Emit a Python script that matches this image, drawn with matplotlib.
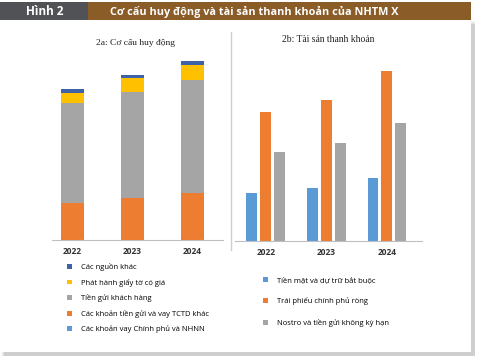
import matplotlib.pyplot as plt
from matplotlib.patches import Rectangle, Patch
import numpy as np

# ── Data ──────────────────────────────────────────────────────────────────────
years = ['2022', '2023', '2024']

# 2a: funding structure (stacked, bottom -> top)
vay_cp_nhnn = [0, 0, 0]
tien_gui_tctd = [37, 42, 47]
tien_gui_kh = [100, 106, 113]
giay_to_co_gia = [10, 14, 15]
nguon_khac = [4, 3, 4]

stack_labels = ['Các khoản vay Chính phủ và NHNN',
                'Các khoản tiền gửi và vay TCTD khác',
                'Tiền gửi khách hàng',
                'Phát hành giấy tờ có giá',
                'Các nguồn khác']
stack_colors = ['#5B9BD5', '#ED7D31', '#A5A5A5', '#FFC000', '#3D62A8']

# 2b: liquid assets
tien_mat = [48, 53, 63]
trai_phieu = [129, 141, 170]
nostro = [89, 98, 118]
liq_labels = ['Tiền mặt và dự trữ bắt buộc',
              'Trái phiếu chính phủ ròng',
              'Nostro và tiền gửi không kỳ hạn']
liq_colors = ['#5B9BD5', '#ED7D31', '#A5A5A5']

# ── Figure ────────────────────────────────────────────────────────────────────
W, H = 478, 359
fig = plt.figure(figsize=(W / 100, H / 100), dpi=100)
fig.patch.set_facecolor('white')


def box(x0, y0, x1, y1):
    # pixel box (top-left origin) -> figure fraction
    return [x0 / W, 1 - y1 / H, (x1 - x0) / W, (y1 - y0) / H]


bg = fig.add_axes([0, 0, 1, 1])
bg.set_xlim(0, W)
bg.set_ylim(H, 0)
bg.axis('off')

# drop shadow + white panel
for i, a in enumerate([0.05, 0.08, 0.12, 0.18]):
    d = 5 - i
    bg.add_patch(Rectangle((4 - d + 2, 24 - d + 2), 467 + d + 2, 328 + d + 2,
                           facecolor='#808080', alpha=a, edgecolor='none'))
bg.add_patch(Rectangle((0, 20), 471, 332, facecolor='white', edgecolor='none'))

# header
bg.add_patch(Rectangle((0, 2), 88, 18, facecolor='#505256', edgecolor='none'))
bg.add_patch(Rectangle((88, 2), 383, 18, facecolor='#8A5C27', edgecolor='none'))
bg.text(45, 11.5, 'Hình 2', color='white', fontsize=8.5, fontweight='bold',
        family='Open Sans', ha='center', va='center')
bg.text(110, 11.5, 'Cơ cấu huy động và tài sản thanh khoản của NHTM X',
        color='white', fontsize=7.8, fontweight='bold', family='Open Sans',
        ha='left', va='center')

# divider
bg.plot([231, 231], [32, 250], color='#CFCFCF', lw=1)

# ── 2a ────────────────────────────────────────────────────────────────────────
ax1 = fig.add_axes(box(52, 50, 223, 240))
x = np.arange(len(years))
bottom = np.zeros(len(years))
series = [vay_cp_nhnn, tien_gui_tctd, tien_gui_kh, giay_to_co_gia, nguon_khac]
handles1 = []
for vals, lab, col in zip(series, stack_labels, stack_colors):
    ax1.bar(x, vals, 0.38, bottom=bottom, color=col, label=lab)
    bottom += np.array(vals)
    handles1.append(Patch(facecolor=col, label=lab))
ax1.set_xlim(-0.34, 2.51)
ax1.set_ylim(0, 190)

# ── 2b ────────────────────────────────────────────────────────────────────────
ax2 = fig.add_axes(box(235, 50, 422, 241))
bw = 0.18
off = 0.23
handles2 = []
for vals, dx, lab, col in zip([tien_mat, trai_phieu, nostro], [-off, 0, off],
                              liq_labels, liq_colors):
    ax2.bar(x + dx, vals, bw, color=col, label=lab)
    handles2.append(Patch(facecolor=col, label=lab))
ax2.set_xlim(-0.51, 2.58)
ax2.set_ylim(0, 191)

for ax in (ax1, ax2):
    for s in ('top', 'right', 'left'):
        ax.spines[s].set_visible(False)
    ax.spines['bottom'].set_color('#BFBFBF')
    ax.spines['bottom'].set_linewidth(0.8)
    ax.set_yticks([])
    ax.set_xticks(x)
    ax.set_xticklabels(years, fontsize=6, fontweight='bold', family='Open Sans',
                       color='#333333')
    ax.tick_params(axis='x', length=0, pad=5)
    ax.set_facecolor('none')

fig.text(135 / W, 1 - 43 / H, '2a: Cơ cấu huy động', family='Liberation Serif',
         fontsize=6.8, ha='center', va='center', color='#222222')
fig.text(328 / W, 1 - 40 / H, '2b: Tài sản thanh khoản', family='Liberation Serif',
         fontsize=6.9, ha='center', va='center', color='#222222')

# legends
leg_kw = dict(frameon=False, loc='upper left', handlelength=0.6, handleheight=0.6,
              handletextpad=1.2, borderaxespad=0, borderpad=0,
              prop={'family': 'Open Sans', 'size': 5.5})
fig.legend(handles=handles1[::-1], bbox_to_anchor=(67 / W, 1 - 263 / H),
           labelspacing=1.0, **leg_kw)
fig.legend(handles=handles2, bbox_to_anchor=(263 / W, 1 - 277 / H),
           labelspacing=1.75, **leg_kw)

fig.savefig('out.png', dpi=100)
